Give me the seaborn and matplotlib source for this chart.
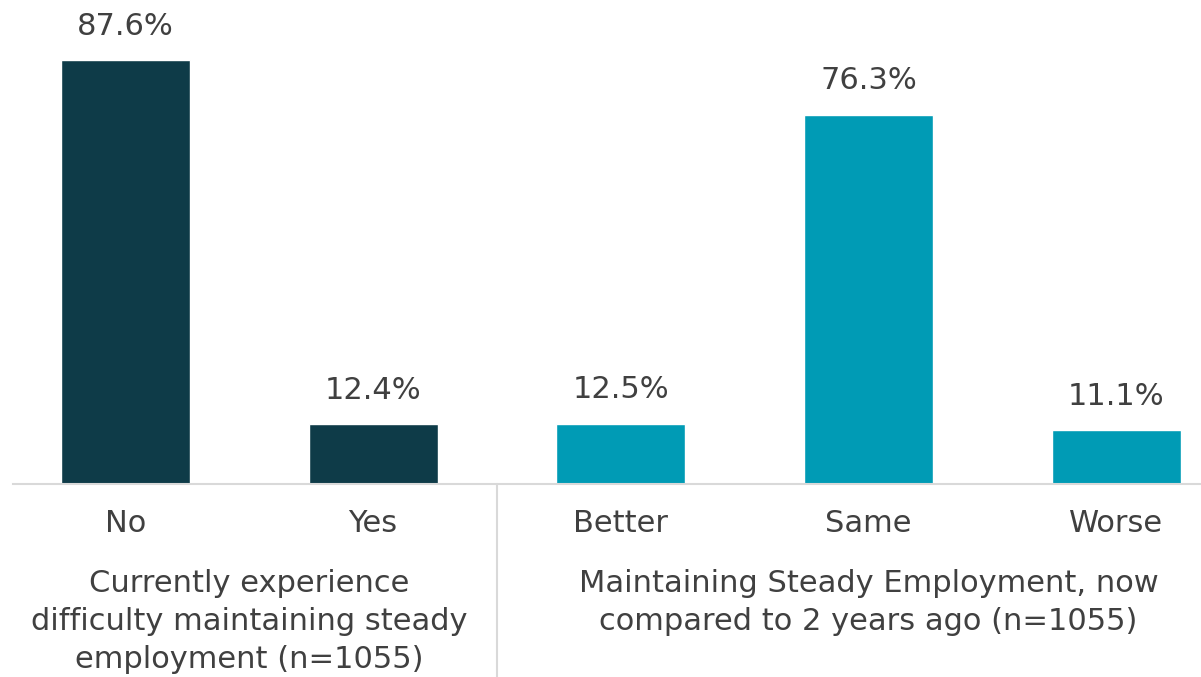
import matplotlib
matplotlib.use("Agg")
import matplotlib.pyplot as plt
import seaborn as sns
import pandas as pd

categories = ["No", "Yes", "Better", "Same", "Worse"]
values = [87.6, 12.4, 12.5, 76.3, 11.1]
groups = ["Currently experience\ndifficulty maintaining steady\nemployment (n=1055)",
          "Maintaining Steady Employment, now\ncompared to 2 years ago (n=1055)"]
group_of = [0, 0, 1, 1, 1]
group_colors = ["#0E3B48", "#009BB5"]

df = pd.DataFrame({"cat": categories, "val": values,
                   "grp": [groups[g] for g in group_of]})

sns.set_theme(style="white")
plt.rcParams["font.family"] = ["DejaVu Sans"]
plt.rcParams["font.sans-serif"] = ["DejaVu Sans"]
FAM = "DejaVu Sans"
txt = "#404040"
FS = 22

fig = plt.figure(figsize=(12.01, 6.77), dpi=100)
ax = fig.add_axes([13/1201, (677-484)/677, (1201-13)/1201, 484/677])
sns.barplot(data=df, x="cat", y="val", hue="grp", palette=group_colors,
            dodge=False, width=0.52, legend=False, ax=ax, saturation=1)

ax.set_ylim(0, 100)
ax.set_xlim(-0.454, 4.342)
for s in ["top", "right", "left"]:
    ax.spines[s].set_visible(False)
ax.spines["bottom"].set_color("#d9d9d9")
ax.spines["bottom"].set_linewidth(1.5)
ax.set_yticks([])
ax.set_xlabel("")
ax.set_ylabel("")
ax.tick_params(axis="x", length=0, pad=18, labelcolor=txt)
for lab in ax.get_xticklabels():
    lab.set_fontfamily(FAM)
    lab.set_fontsize(FS)

for i, v in enumerate(values):
    ax.annotate(f"{v}%", (i, v), xytext=(0, 14), textcoords="offset points",
                ha="center", va="bottom", fontsize=FS, color=txt, fontfamily=FAM)

# group labels
for x, g in zip([0.5, 3.0], groups):
    ax.text(x, -0.176, g, transform=ax.get_xaxis_transform(),
            ha="center", va="top", fontsize=FS, color=txt, linespacing=1.38,
            fontfamily=FAM)

# separator
ax.plot([1.5, 1.5], [0, -0.42], transform=ax.get_xaxis_transform(),
        color="#d9d9d9", lw=1.5, clip_on=False)

fig.savefig("out.png", dpi=100)
